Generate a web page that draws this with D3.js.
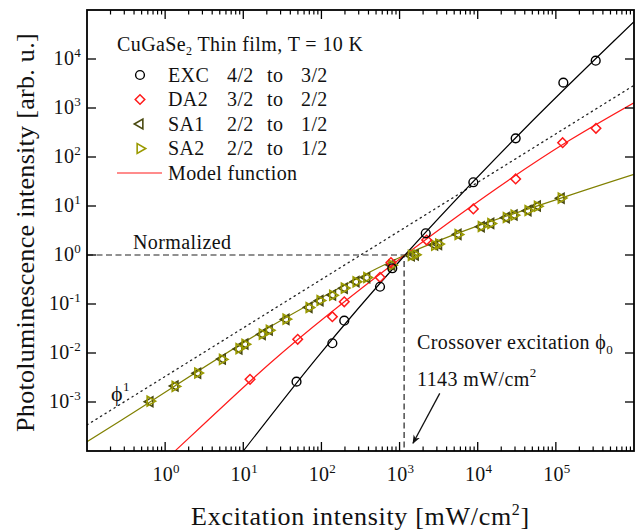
<!DOCTYPE html>
<html>
<head>
<meta charset="utf-8">
<script src="https://cdn.jsdelivr.net/npm/d3@7"></script>
<style>
  body { margin: 0; background: #fff; }
  svg text { font-family: 'Liberation Serif', 'Times New Roman', serif; fill: #111; }
</style>
</head>
<body>
<div id="chart"></div>
<script>
const W = 638;
const H = 530;
const M = { left: 87, top: 10, right: 4, bottom: 79 };

const excX = [48, 138, 196, 562, 807, 2163, 8790, 30600, 124700, 323600];
const excY = [0.0026, 0.0158, 0.0456, 0.225, 0.536, 2.77, 30.5, 240, 3290, 9240];

const da2X = [12.2, 49.7, 138, 196, 562, 776, 2220, 8790, 30600, 122000, 326000];
const da2Y = [0.0029, 0.019, 0.055, 0.111, 0.35, 0.70, 2.02, 8.7, 35.6, 196, 385];

const saX = [0.64, 1.34, 2.61, 5.4, 8.8, 10.5, 17.5, 21.5, 35.2, 69.4, 95.9, 139, 196, 277, 380, 793,
  1413, 1590, 2810, 3160, 5600, 11100, 14700, 23200, 29200, 44000, 58000, 117000];
const sa1Y = [0.00101, 0.00212, 0.00385, 0.00755, 0.0121, 0.0153, 0.024, 0.0294, 0.0486, 0.0855, 0.117,
  0.153, 0.209, 0.286, 0.344, 0.625, 0.97, 1.0, 1.6, 1.65, 2.64, 3.78, 4.43, 5.78, 6.55, 8.03, 10.0, 14.4];
const sa2Y = [0.00104, 0.00208, 0.0039, 0.0074, 0.0123, 0.0151, 0.0243, 0.029, 0.049, 0.0848, 0.118,
  0.151, 0.211, 0.283, 0.347, 0.62, 0.98, 1.01, 1.58, 1.67, 2.62, 3.81, 4.4, 5.82, 6.5, 8.1, 9.9, 14.5];

// model function curves
const excFitX = [10, 82.8, 1175, 38400, 571000, 1e6];
const excFitY = [1e-4, 0.00719, 1, 356, 24400, 57700];
const da2FitX = [1.34, 3.56, 22.0, 1175, 151700, 1e6];
const da2FitY = [1e-4, 4.3e-4, 0.00617, 1, 222, 1282];
const saFitX = [0.1, 0.278, 22.0, 1175, 151700, 1e6];
const saFitY = [1.55e-4, 4.3e-4, 0.0344, 1, 16.7, 44.4];

// phi^1 reference line
const phiX = [0.1, 1e6];
const phiY = [3.4e-4, 2.9e3];

const crossX = 1143;
const normY = 1;

const xTickExp = [0, 1, 2, 3, 4, 5];
const yTickExp = [-3, -2, -1, 0, 1, 2, 3, 4];

const legendRows = [
  { name: 'EXC', from: '4/2', to: '3/2' },
  { name: 'DA2', from: '3/2', to: '2/2' },
  { name: 'SA1', from: '2/2', to: '1/2' },
  { name: 'SA2', from: '2/2', to: '1/2' }
];

const OLIVE = '#808000';
const SA1C = '#4a4a10';
const SA2C = '#9a9a00';
const FS = '20px';
const LS = '0.4px';

const svg = d3.select('#chart').append('svg')
  .attr('width', W).attr('height', H);

const x = d3.scaleLog().domain([0.1, 1e6]).range([M.left, W - M.right]);
const y = d3.scaleLog().domain([1e-4, 1e5]).range([H - M.bottom, M.top]);

const defs = svg.append('defs');
defs.append('clipPath').attr('id', 'clip')
  .append('rect')
  .attr('x', M.left).attr('y', M.top)
  .attr('width', W - M.left - M.right).attr('height', H - M.top - M.bottom);
defs.append('marker')
  .attr('id', 'arrow')
  .attr('viewBox', '0 0 10 10')
  .attr('refX', 9).attr('refY', 5)
  .attr('markerWidth', 9).attr('markerHeight', 9)
  .attr('markerUnits', 'userSpaceOnUse')
  .attr('orient', 'auto')
  .append('path').attr('d', 'M0,1 L10,5 L0,9 L3,5 Z').attr('fill', '#111');

const zip = (xs, ys) => xs.map((v, i) => [v, ys[i]]);

const plot = svg.append('g').attr('clip-path', 'url(#clip)');

// reference lines
plot.append('path')
  .attr('d', d3.line().x(d => x(d[0])).y(d => y(d[1]))(zip(phiX, phiY)))
  .attr('fill', 'none').attr('stroke', '#222').attr('stroke-width', 1.3)
  .attr('stroke-dasharray', '1.3,4').attr('stroke-linecap', 'round');

plot.append('path')
  .attr('d', `M${x(0.1)},${y(normY)}H${x(crossX)}V${y(1e-4)}`)
  .attr('fill', 'none').attr('stroke', '#222').attr('stroke-width', 1.2)
  .attr('stroke-dasharray', '6,3.5');

// model curves
const curve = d3.line().x(d => x(d[0])).y(d => y(d[1])).curve(d3.curveMonotoneX);
[[saFitX, saFitY, OLIVE], [da2FitX, da2FitY, '#ff1a1a'], [excFitX, excFitY, '#000']].forEach(([xs, ys, c]) => {
  plot.append('path')
    .attr('d', curve(zip(xs, ys)))
    .attr('fill', 'none').attr('stroke', c).attr('stroke-width', 1.2);
});

// markers
const tri = d3.symbol().type(d3.symbolTriangle).size(42)();
const dia = d3.symbol().type(d3.symbolSquare).size(46)();

plot.selectAll('.sa1').data(zip(saX, sa1Y)).enter().append('path')
  .attr('d', tri)
  .attr('transform', d => `translate(${x(d[0])},${y(d[1])}) rotate(-90)`)
  .attr('fill', 'none').attr('stroke', SA1C).attr('stroke-width', 1.6);

plot.selectAll('.sa2').data(zip(saX, sa2Y)).enter().append('path')
  .attr('d', tri)
  .attr('transform', d => `translate(${x(d[0])},${y(d[1])}) rotate(90)`)
  .attr('fill', 'none').attr('stroke', SA2C).attr('stroke-width', 1.6);

plot.selectAll('.da2').data(zip(da2X, da2Y)).enter().append('path')
  .attr('d', dia)
  .attr('transform', d => `translate(${x(d[0])},${y(d[1])}) rotate(45)`)
  .attr('fill', 'none').attr('stroke', '#ff1a1a').attr('stroke-width', 1.5);

plot.selectAll('.exc').data(zip(excX, excY)).enter().append('circle')
  .attr('cx', d => x(d[0])).attr('cy', d => y(d[1])).attr('r', 4.4)
  .attr('fill', 'none').attr('stroke', '#000').attr('stroke-width', 1.4);

// frame and ticks
const x0 = M.left, x1 = W - M.right, y0 = M.top, y1 = H - M.bottom;
const axes = svg.append('g').attr('stroke', '#000');

const xMinor = [];
for (let e = -1; e < 6; e++) for (let k = 2; k <= 9; k++) xMinor.push(k * Math.pow(10, e));
xMinor.forEach(v => {
  axes.append('line').attr('x1', x(v)).attr('x2', x(v)).attr('y1', y1).attr('y2', y1 - 4.5).attr('stroke-width', 1.2);
  axes.append('line').attr('x1', x(v)).attr('x2', x(v)).attr('y1', y0).attr('y2', y0 + 4.5).attr('stroke-width', 1.2);
});
xTickExp.forEach(e => {
  const v = Math.pow(10, e);
  axes.append('line').attr('x1', x(v)).attr('x2', x(v)).attr('y1', y1).attr('y2', y1 - 9).attr('stroke-width', 1.3);
  axes.append('line').attr('x1', x(v)).attr('x2', x(v)).attr('y1', y0).attr('y2', y0 + 9).attr('stroke-width', 1.3);
});
yTickExp.forEach(e => {
  const v = Math.pow(10, e);
  axes.append('line').attr('y1', y(v)).attr('y2', y(v)).attr('x1', x0).attr('x2', x0 + 9).attr('stroke-width', 1.3);
  axes.append('line').attr('y1', y(v)).attr('y2', y(v)).attr('x1', x1).attr('x2', x1 - 9).attr('stroke-width', 1.3);
});
axes.append('rect')
  .attr('x', x0).attr('y', y0).attr('width', x1 - x0).attr('height', y1 - y0)
  .attr('fill', 'none').attr('stroke-width', 1.8);

// tick labels
xTickExp.forEach(e => {
  const t = svg.append('text')
    .attr('x', x(Math.pow(10, e)) + 1).attr('y', 481)
    .attr('text-anchor', 'middle').style('font-size', '20px').style('letter-spacing', '0.3px');
  t.append('tspan').text('10');
  t.append('tspan').attr('dy', -8).style('font-size', '13px').text(e);
});
yTickExp.forEach(e => {
  const t = svg.append('text')
    .attr('x', 81).attr('y', y(Math.pow(10, e)) + 6)
    .attr('text-anchor', 'end').style('font-size', '20px').style('letter-spacing', '0.3px');
  t.append('tspan').text('10');
  t.append('tspan').attr('dy', -8).style('font-size', '13px').text(e);
});

// axis titles
const xt = svg.append('text')
  .attr('x', (x0 + x1) / 2).attr('y', 525)
  .attr('text-anchor', 'middle').style('font-size', '26px').style('letter-spacing', '0.7px');
xt.append('tspan').text('Excitation intensity [mW/cm');
xt.append('tspan').attr('dy', -10).style('font-size', '16px').text('2');
xt.append('tspan').attr('dy', 10).text(']');

svg.append('text')
  .attr('transform', `translate(34,${(y0 + y1) / 2 + 2}) rotate(-90)`)
  .attr('text-anchor', 'middle').style('font-size', '26px').style('letter-spacing', '0.3px')
  .text('Photoluminescence intensity [arb. u.]');

// legend
const lg = svg.append('g').style('font-size', FS).style('letter-spacing', LS);
const title = lg.append('text').attr('x', 117).attr('y', 51);
title.append('tspan').text('CuGaSe');
title.append('tspan').attr('dy', 4).style('font-size', '12px').text('2');
title.append('tspan').attr('dy', -4).text(' Thin film, T = 10 K');

const rowY = [75, 99.5, 124, 148.5];
legendRows.forEach((r, i) => {
  const yy = rowY[i] + 6.5;
  lg.append('text').attr('x', 168).attr('y', yy).text(r.name);
  lg.append('text').attr('x', 227).attr('y', yy).text(r.from);
  lg.append('text').attr('x', 267).attr('y', yy).text('to');
  lg.append('text').attr('x', 301).attr('y', yy).text(r.to);
});
lg.append('circle').attr('cx', 140).attr('cy', rowY[0]).attr('r', 4.4)
  .attr('fill', 'none').attr('stroke', '#000').attr('stroke-width', 1.4);
lg.append('path').attr('d', dia).attr('transform', `translate(140,${rowY[1]}) rotate(45)`)
  .attr('fill', 'none').attr('stroke', '#ff1a1a').attr('stroke-width', 1.5);
lg.append('path').attr('d', tri).attr('transform', `translate(140,${rowY[2]}) rotate(-90)`)
  .attr('fill', 'none').attr('stroke', SA1C).attr('stroke-width', 1.6);
lg.append('path').attr('d', tri).attr('transform', `translate(140,${rowY[3]}) rotate(90)`)
  .attr('fill', 'none').attr('stroke', SA2C).attr('stroke-width', 1.6);
lg.append('line').attr('x1', 117).attr('x2', 162).attr('y1', 173).attr('y2', 173)
  .attr('stroke', '#ff1a1a').attr('stroke-width', 1.2);
lg.append('text').attr('x', 168).attr('y', 179.5).text('Model function');

// annotations
const ann = svg.append('g').style('font-size', FS).style('letter-spacing', LS);
ann.append('text').attr('x', 133).attr('y', 248.5).text('Normalized');

const phi = ann.append('text').attr('x', 111).attr('y', 401).style('font-size', '22px');
phi.append('tspan').text('\u03D5');
phi.append('tspan').attr('dy', -10).style('font-size', '13px').text('1');

const co = ann.append('text').attr('x', 417).attr('y', 348.5);
co.append('tspan').text('Crossover excitation \u03D5');
co.append('tspan').attr('dy', 5).style('font-size', '13px').text('0');

const cv = ann.append('text').attr('x', 417).attr('y', 385.5);
cv.append('tspan').text(crossX + ' mW/cm');
cv.append('tspan').attr('dy', -9).style('font-size', '13px').text('2');

svg.append('line')
  .attr('x1', x(3266)).attr('y1', y(1.5e-3))
  .attr('x2', x(1486)).attr('y2', y(1.44e-4))
  .attr('stroke', '#111').attr('stroke-width', 1.3)
  .attr('marker-end', 'url(#arrow)');
</script>
</body>
</html>
